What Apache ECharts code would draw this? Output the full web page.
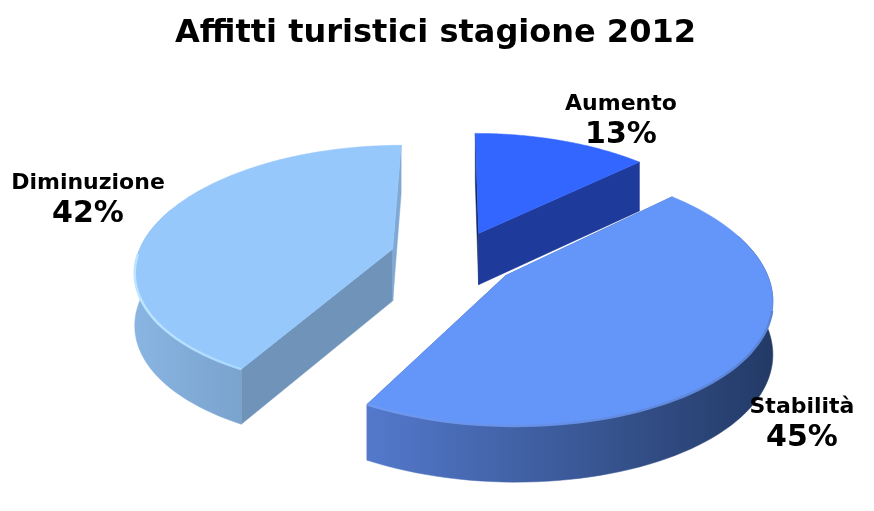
<!DOCTYPE html>
<html><head><meta charset="utf-8">
<style>html,body{margin:0;padding:0;background:#fff}#c{width:874px;height:511px}</style>
<script src="https://cdn.jsdelivr.net/npm/echarts@6/dist/echarts.min.js"></script>
</head><body><div id="c"></div>
<script>
const categories = ['Aumento', 'Stabilità', 'Diminuzione'];
const values = [13, 45, 42];
const chartTitle = 'Affitti turistici stagione 2012';

/* view settings of the 3D projection */
const view = {cx: 454, cy: 255, rx: 255, ry: 121, kx: 0.16, ky: 0.15, h: 52, hk: 0.07, explodeX: 0.25};
const explodeY = [0.2, 0.27, 0.2];
const labelAt = [[621,104,135],[802,407,438],[88,183,214]];
const paint = [
  {top:'#3366FF', rim:null, wall:['#1C3A9A','#1C3A9A'], cut0:'#12265F', cut1:'#1E3B9B'},
  {top:'#6496FA', rim:['#6E9AF2','#5C84D6'], wall:['#5479CC','#233A66'], cut0:'#3C5DA8', cut1:'#3C5DA8'},
  {top:'#96C8FC', rim:['#BFE6FF','#A8D8FF'], wall:['#89B5E2','#7AA3CE'], cut0:'#6F93B9', cut1:'#7FA8D4'}
];
const drawOrder = [0, 2, 1];

const total = values.reduce((a, b) => a + b, 0);
const slices = [];
let acc = 0;
values.forEach(v => { const a0 = acc / total * 2 * Math.PI; acc += v; slices.push({a0, a1: acc / total * 2 * Math.PI}); });

function project(wx, wy, z) {
  return [view.cx + wx * view.rx / (1 - view.kx * wy),
          view.cy + wy * view.ry / (1 - view.ky * wy) + z * view.h * (1 + view.hk * wy)];
}
function render(params, api) {
  const i = api.value(0);
  const {a0, a1} = slices[i], mid = (a0 + a1) / 2, c = paint[i];
  const ox = Math.sin(mid) * view.explodeX, oy = -Math.cos(mid) * explodeY[i];
  const n = 80, arc = z => {
    const pts = [];
    for (let j = 0; j <= n; j++) {
      const a = a0 + (a1 - a0) * j / n;
      pts.push(project(ox + Math.sin(a), oy - Math.cos(a), z));
    }
    return pts;
  };
  const topArc = arc(0), botArc = arc(1);
  const apex0 = project(ox, oy, 0), apex1 = project(ox, oy, 1);
  const wall = [], wallB = [], rim = [];
  for (let j = 0; j <= n; j++) {
    const a = a0 + (a1 - a0) * j / n;
    if (Math.cos(a) < 0.35) { wall.push(topArc[j]); wallB.push(botArc[j]); }
    if (Math.cos(a) < -0.02 && Math.sin(a) < 0.97) rim.push(topArc[j]);
  }
  const xs = wall.map(p => p[0]);
  const grad = cols => new echarts.graphic.LinearGradient(Math.min(...xs), 0, Math.max(...xs), 0,
    [{offset: 0, color: cols[0]}, {offset: 1, color: cols[1]}], true);
  const poly = (points, fill, z2) => ({type: 'polygon', z2, shape: {points},
    style: {fill, stroke: fill, lineWidth: 0.5}});
  const children = [
    poly([apex0, apex1, botArc[0], topArc[0]], c.cut0, 1),
    poly([apex0, apex1, botArc[n], topArc[n]], c.cut1, 1)
  ];
  if (wall.length > 1) {
    children.push(poly(wall.concat(wallB.slice().reverse()), grad(c.wall), 3));
  }
  children.push(poly([apex0].concat(topArc), c.top, 4));
  if (c.rim && rim.length > 1) {
    children.push({type: 'polyline', z2: 5, shape: {points: rim},
      style: {fill: 'none', stroke: grad(c.rim), lineWidth: 2.5}});
  }
  return {type: 'group', children};
}
function renderLabel(params, api) {
  const i = api.value(0), p = labelAt[i];
  return {type: 'group', children: [
    {type: 'text', z2: 20, x: p[0], y: p[1], style: {text: categories[i], align: 'center', verticalAlign: 'middle',
      font: 'bold 22px "DejaVu Sans"', fill: '#000'}},
    {type: 'text', z2: 20, x: p[0], y: p[2], style: {text: values[i] + '%', align: 'center', verticalAlign: 'middle',
      font: 'bold 30px "DejaVu Sans"', fill: '#000'}}
  ]};
}
const chart = echarts.init(document.getElementById('c'), null, {renderer: 'canvas'});
chart.setOption({
  animation: false,
  backgroundColor: '#fff',
  title: {text: chartTitle, left: 430.5, top: 13, textAlign: 'center',
    textStyle: {fontFamily: 'DejaVu Sans', fontWeight: 'bold', fontSize: 32, color: '#000'}},
  series: drawOrder.map((d, idx) => ({
    type: 'custom', coordinateSystem: 'none', z: 2 + idx, renderItem: render,
    data: [{name: categories[d], value: [d, values[d]]}]
  })).concat([{
    type: 'custom', coordinateSystem: 'none', z: 10, renderItem: renderLabel,
    data: categories.map((n, d) => ({name: n, value: [d, values[d]]}))
  }])
});
</script></body></html>
